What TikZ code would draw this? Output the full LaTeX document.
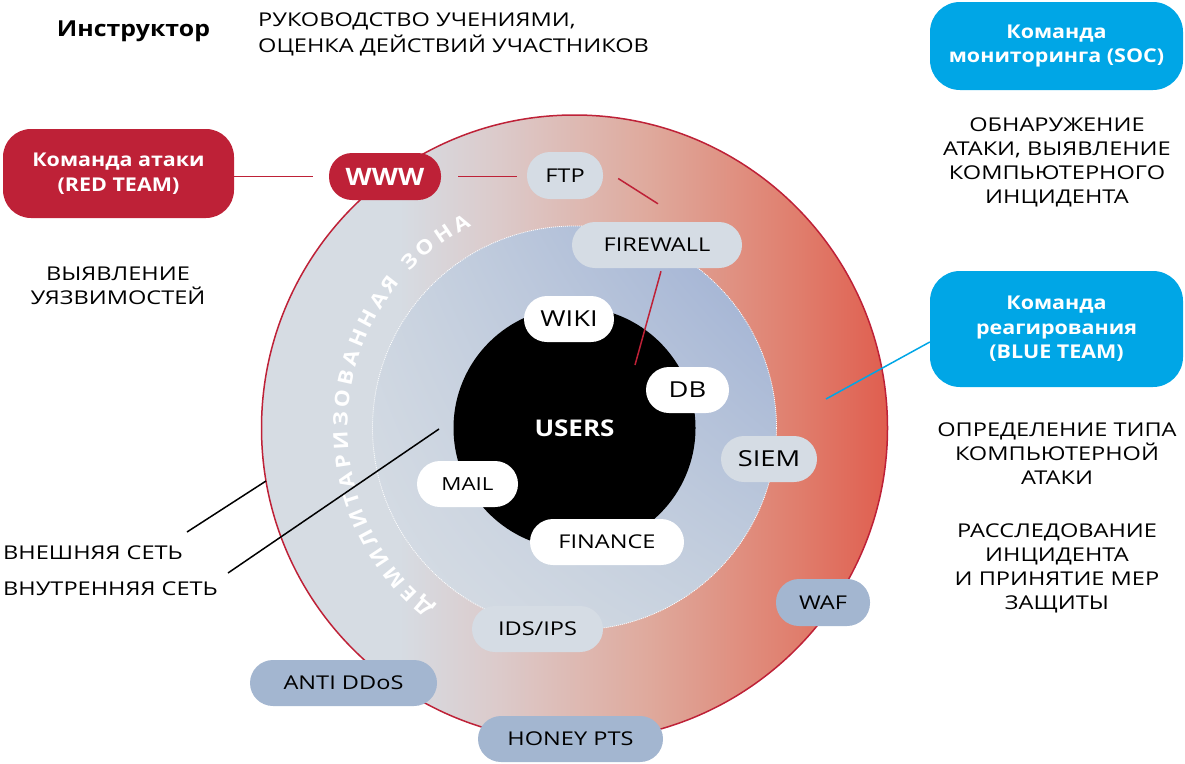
\documentclass[tikz,border=0pt]{standalone}
\usepackage{fontspec}
\setmainfont{Open Sans}[FakeStretch=1.24, BoldFeatures={FakeStretch=1.13}]
\usepackage{xcolor}
\usepackage{tikz}
\usetikzlibrary{calc,shadings,decorations.text}

\definecolor{dmzred}{HTML}{BE2137}
\definecolor{socblue}{HTML}{00A6E6}
\definecolor{boxgrey}{HTML}{D5DCE4}
\definecolor{boxsteel}{HTML}{A3B6D0}
\definecolor{ringgrey}{HTML}{D6DCE3}
\definecolor{ringpink}{HTML}{DCCACA}
\definecolor{ringsalmon}{HTML}{DFA99C}
\definecolor{ringcoral}{HTML}{E07D6C}
\definecolor{ringred}{HTML}{E05E4F}
\pgfdeclarehorizontalshading{dmzring}{100bp}{color(0bp)=(ringgrey); color(36bp)=(ringgrey);
  color(44bp)=(ringpink); color(56bp)=(ringsalmon); color(68bp)=(ringcoral);
  color(75bp)=(ringred); color(100bp)=(ringred)}

\tikzset{
  pill/.style={rounded corners=23pt, minimum height=46pt, inner sep=0pt,
    font=\fontsize{19}{23}\selectfont},
  teambox/.style={rounded corners=30pt, fill=#1, text=white, align=center, inner sep=0pt,
    minimum width=253pt, font=\bfseries\fontsize{19}{24.5}\selectfont},
  note/.style={align=center, inner sep=0pt, font=\fontsize{19}{24}\selectfont},
  redlink/.style={draw=dmzred, line width=1.5pt},
  blacklink/.style={draw=black, line width=1.5pt},
}

\begin{document}
\begin{tikzpicture}[x=1pt,y=-1pt]
  \useasboundingbox (0,0) rectangle (1185,763);
  \coordinate (hub) at (574.5,428);

  % Rings: outer network, DMZ, inner network
  \shade[shading=dmzring] (hub) circle (313pt);
  \draw[dmzred, line width=1.5pt] (hub) circle (313pt);
  \shade[upper right=boxsteel!95!blue, lower left=ringgrey!95!white,
    upper left=boxgrey!80!boxsteel, lower right=boxgrey!70!boxsteel] (hub) circle (202pt);
  \draw[white, line width=0.8pt, dash pattern=on 1pt off 1pt] (hub) circle (202pt);
  \node[circle, fill=black, minimum size=242pt, inner sep=0pt, text=white,
    font=\bfseries\fontsize{23}{23}\selectfont] (users) at (hub) {USERS};

  % Curved label of the DMZ
  \path[decorate, decoration={text along path, text align=fit to path,
    text={|\color{white}\bfseries\fontsize{20}{20}\selectfont|ДЕМИЛИТАРИЗОВАННАЯ ЗОНА}}]
    (hub) ++(232:227pt) arc[start angle=232, end angle=117, radius=227pt];

  % Instructor
  \node[font=\bfseries\fontsize{22}{22}\selectfont, inner sep=0pt] (instr) at (133.5,31) {Инструктор};
  \node[note, align=left, anchor=west, font=\fontsize{19}{26}\selectfont] (instrnote) at (258,34)
    {РУКОВОДСТВО УЧЕНИЯМИ,\\ОЦЕНКА ДЕЙСТВИЙ УЧАСТНИКОВ};

  % Teams
  \node[teambox=socblue, minimum height=88pt] (soc) at (1056.5,46) {Команда\\мониторинга (SOC)};
  \node[note] (socnote) at (1057,162.5) {ОБНАРУЖЕНИЕ\\АТАКИ, ВЫЯВЛЕНИЕ\\КОМПЬЮТЕРНОГО\\ИНЦИДЕНТА};
  \node[teambox=socblue, minimum height=116pt] (blue) at (1056.5,329) {Команда\\реагирования\\(BLUE TEAM)};
  \node[note] (bluenote) at (1057,454) {ОПРЕДЕЛЕНИЕ ТИПА\\КОМПЬЮТЕРНОЙ\\АТАКИ};
  \node[note] (investnote) at (1057,568) {РАССЛЕДОВАНИЕ\\ИНЦИДЕНТА\\И ПРИНЯТИЕ МЕР\\ЗАЩИТЫ};
  \node[teambox=dmzred, minimum width=231pt, minimum height=89pt, rounded corners=28pt] (red)
    at (118.5,173.5) {Команда атаки\\(RED TEAM)};
  \node[note] (rednote) at (118,286) {ВЫЯВЛЕНИЕ\\УЯЗВИМОСТЕЙ};

  % Services
  \node[pill, fill=dmzred, text=white, minimum width=112pt, minimum height=47pt,
    font=\bfseries\fontsize{24}{24}\selectfont] (www) at (385,176.5) {WWW};
  \node[pill, fill=boxgrey, minimum width=76pt, minimum height=47pt] (ftp) at (565,175.5) {FTP};
  \node[pill, fill=boxgrey, minimum width=170pt] (firewall) at (657,245) {FIREWALL};
  \node[pill, fill=white, minimum width=90pt, font=\fontsize{22}{22}\selectfont] (wiki) at (569,319) {WIKI};
  \node[pill, fill=white, minimum width=83pt, font=\fontsize{22}{22}\selectfont] (db) at (687.5,390) {DB};
  \node[pill, fill=boxgrey, minimum width=96pt, font=\fontsize{22}{22}\selectfont] (siem) at (769,459) {SIEM};
  \node[pill, fill=white, minimum width=101pt, font=\fontsize{18}{18}\selectfont] (mail) at (467.5,484) {MAIL};
  \node[pill, fill=white, minimum width=154pt] (finance) at (607,542) {FINANCE};
  \node[pill, fill=boxgrey, minimum width=131pt] (idsips) at (537.5,629) {IDS/IPS};
  \node[pill, fill=boxsteel, minimum width=94pt, minimum height=47pt] (waf) at (823,602.5) {WAF};
  \node[pill, fill=boxsteel, minimum width=187pt] (antiddos) at (343.5,683) {ANTI DDoS};
  \node[pill, fill=boxsteel, minimum width=185pt] (honey) at (570.5,739) {HONEY PTS};

  % Network labels
  \node[note, anchor=west] (extnet) at (3,553) {ВНЕШНЯЯ СЕТЬ};
  \node[note, anchor=west] (intnet) at (3,589) {ВНУТРЕННЯЯ СЕТЬ};
  \coordinate (extend) at (266,481);
  \coordinate (intend) at (439,429);
  \coordinate (fwend) at (635,365);
  \coordinate (blueend) at (826,399);

  % Links
  \draw[redlink, shorten >=16pt] (red.east |- www.west) -- (www.west);
  \draw[redlink, shorten <=17pt, shorten >=10pt] (www.east) -- (ftp.west |- www.east);
  \draw[redlink] ($(ftp.east)+(15,3)$) -- ($(firewall.north)+(1,-18)$);
  \draw[redlink] ($(firewall.south)+(4,3)$) -- (fwend);
  \draw[socblue, line width=1.5pt] ($(blue.west)+(0,13)$) -- (blueend);
  \draw[blacklink] (187,532) -- (extend);
  \draw[blacklink] (228,573) -- (intend);
\end{tikzpicture}
\end{document}
